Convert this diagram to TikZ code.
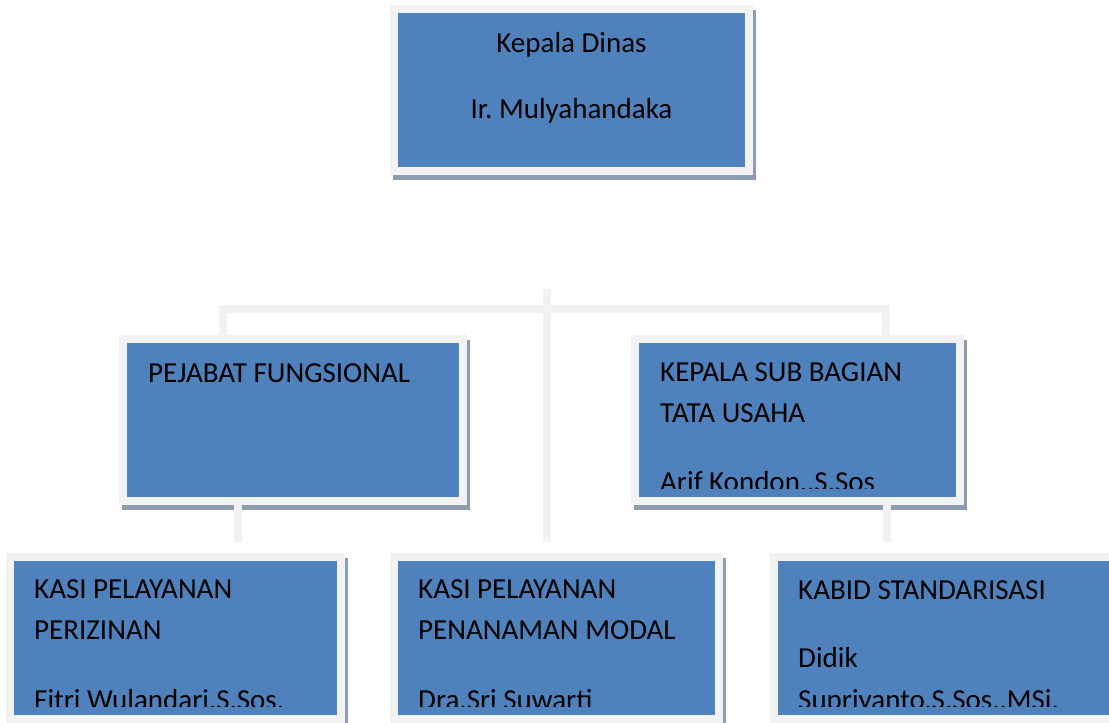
\documentclass[tikz,border=0pt]{standalone}
\usepackage{fontspec}
\setmainfont{Carlito}
\usepackage{xcolor}
\usetikzlibrary{shadows, positioning, calc}
\definecolor{boxblue}{HTML}{4F81BD}
\definecolor{rimgray}{HTML}{F2F2F2}
\definecolor{shadowgray}{HTML}{8E9CB2}
\frenchspacing

\begin{document}
\begin{tikzpicture}[x=1pt,y=-1pt,
  box/.style={rectangle, fill=boxblue, draw=rimgray, line width=8pt, inner sep=0pt,
    minimum height=162pt,
    drop shadow={shadow xshift=3pt, shadow yshift=-5pt, fill=shadowgray, draw=shadowgray, line width=8pt, opacity=1}},
  link/.style={draw=rimgray, line width=8pt, line join=miter},
  txt/.style={inner sep=0pt, text=black, font=\fontsize{29pt}{35pt}\selectfont}]
\useasboundingbox (0,0) rectangle (1109,723);
\clip (0,0) rectangle (1109,723);

% Connector lines
\coordinate (hub) at (547,289);
\coordinate (hubend) at (547,542);
\coordinate (lt) at (223,309);
\coordinate (rt) at (886,309);
\coordinate (fdrop) at (238,542);
\coordinate (tdrop) at (887,542);

% Boxes
\node[box, minimum width=355pt] (dinas) at (571.5,90) {};
\node[box, minimum width=340pt] (fungsional) at (293,420) {};
\node[box, minimum width=325pt] (tatausaha) at (797.5,420) {};
\node[box, minimum width=331pt] (perizinan) at (175.5,638) {};
\node[box, minimum width=325pt] (modal) at (556.5,638) {};
\node[box, minimum width=340pt] (standar) at (944,638) {};

\draw[link] (hub) -- (hubend);
\draw[link] (lt |- fungsional.north) -- (lt) -- (rt) -- (rt |- tatausaha.north);
\draw[link] (fdrop |- fungsional.south) -- (fdrop);
\draw[link] (tdrop |- tatausaha.south) -- (tdrop);

% Kepala Dinas
\node[txt, anchor=base] (dinasjab) at (571.5,52) {Kepala Dinas};
\node[txt, anchor=base] (dinasnama) at (571.5,118) {Ir. Mulyahandaka};

% Pejabat fungsional
\node[txt, anchor=base west] (fungsionaljab) at (148,382) {PEJABAT FUNGSIONAL};

% Tata usaha (last line cut off)
\begin{scope}
\clip (tatausaha.north west) rectangle ($(tatausaha.south east)+(0,-17)$);
\node[txt, anchor=base west] (tatausahajab) at (660,381) {KEPALA SUB BAGIAN};
\node[txt, anchor=base west] (tatausahajab2) at (660,422) {TATA USAHA};
\node[txt, anchor=base west] (tatausahanama) at (660,491) {Arif Kondon,{},S.Sos};
\end{scope}

% Perizinan
\begin{scope}
\clip (perizinan.north west) rectangle ($(perizinan.south east)+(0,-17)$);
\node[txt, anchor=base west] (perizinanjab) at (34,598) {KASI PELAYANAN};
\node[txt, anchor=base west] (perizinanjab2) at (34,639) {PERIZINAN};
\node[txt, anchor=base west] (perizinannama) at (34,709) {Fitri Wulandari,S.Sos.};
\end{scope}

% Penanaman modal
\begin{scope}
\clip (modal.north west) rectangle ($(modal.south east)+(0,-17)$);
\node[txt, anchor=base west] (modaljab) at (418,598) {KASI PELAYANAN};
\node[txt, anchor=base west] (modaljab2) at (418,639) {PENANAMAN MODAL};
\node[txt, anchor=base west] (modalnama) at (418,709) {Dra.Sri Suwarti};
\end{scope}

% Standarisasi
\begin{scope}
\clip (standar.north west) rectangle ($(standar.south east)+(0,-17)$);
\node[txt, anchor=base west] (standarjab) at (798,599) {KABID STANDARISASI};
\node[txt, anchor=base west] (standarnama) at (798,667) {Didik};
\node[txt, anchor=base west] (standarnama2) at (798,709) {Supriyanto,S.Sos.,MSi.};
\end{scope}
\end{tikzpicture}
\end{document}
